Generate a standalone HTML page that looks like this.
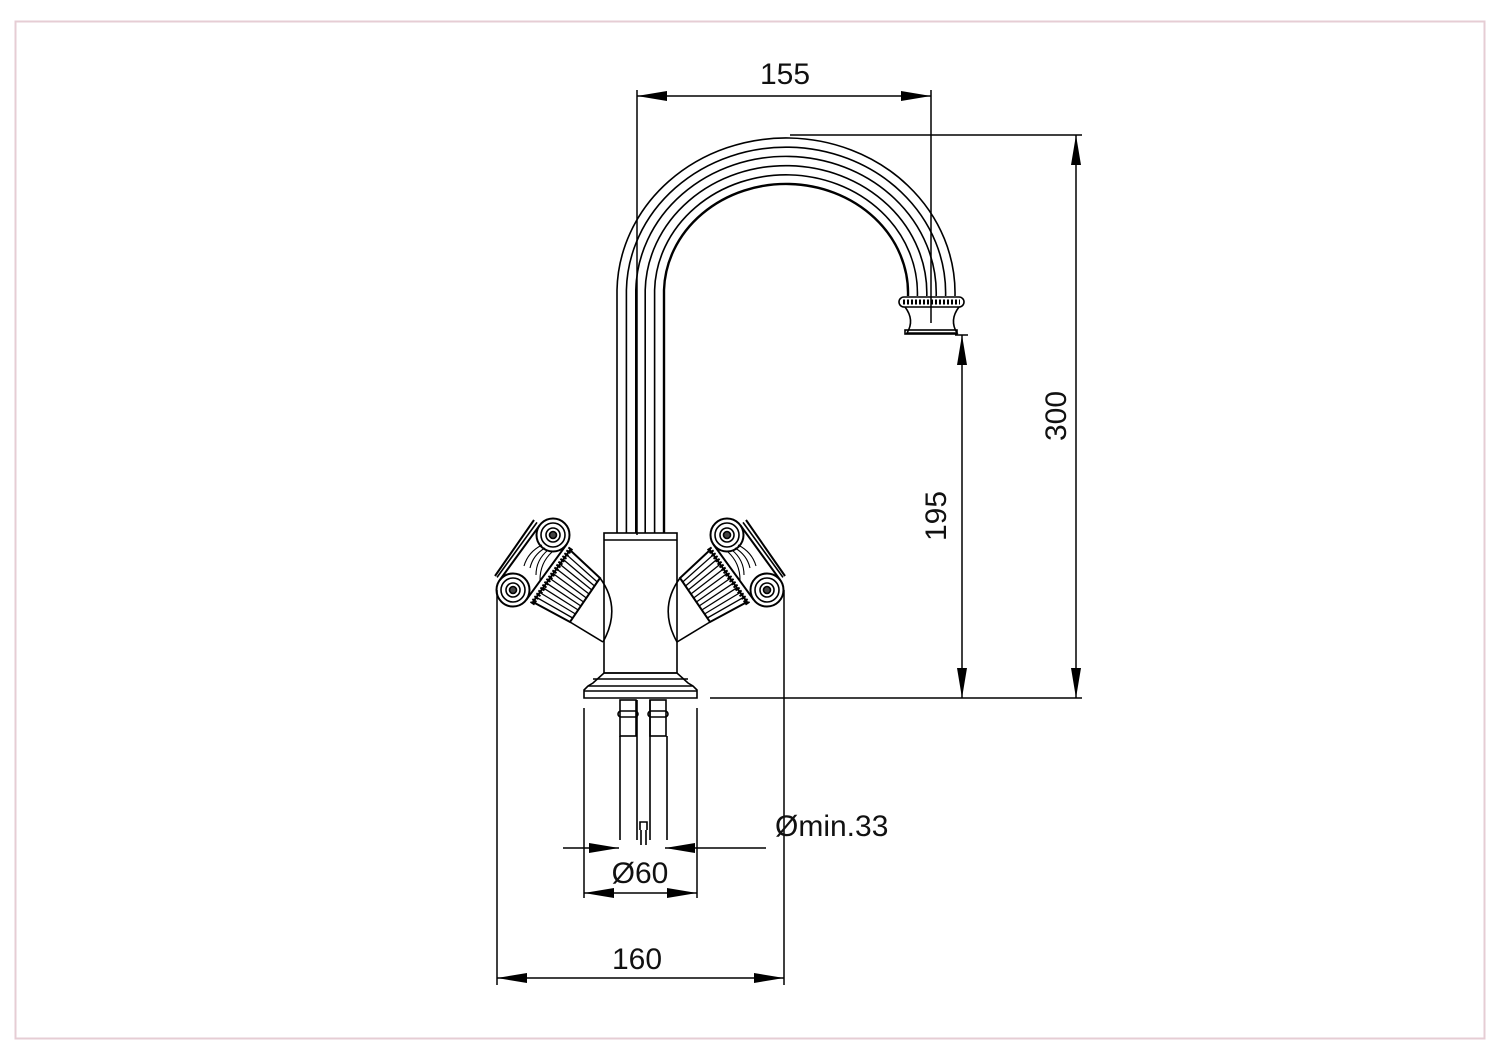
<!DOCTYPE html>
<html><head><meta charset="utf-8"><style>
html,body{margin:0;padding:0;background:#fff;}
svg{display:block;}
text{font-family:"Liberation Sans",Arial,sans-serif;font-size:30px;fill:#111;}
</style></head><body>
<svg width="1500" height="1060" viewBox="0 0 1500 1060" xmlns="http://www.w3.org/2000/svg">
<defs>
<marker id="ar" viewBox="0 0 30 10" refX="30" refY="5" markerWidth="30" markerHeight="10" markerUnits="userSpaceOnUse" orient="auto-start-reverse">
<path d="M0,0 L30,5 L0,10 z" fill="#000"/></marker>
</defs>
<rect x="15.5" y="21.5" width="1469" height="1017" fill="none" stroke="#e6cdd4" stroke-width="2"/>

<g fill="none" stroke="#000" stroke-width="1.6">
<path d="M617,533 L617,290 A169,155 0 0 1 955,296"/>
<path d="M626.4,533 L626.4,290 A159.6,145.8 0 0 1 945.6,296"/>
<path d="M635.8,533 L635.8,290 A150.2,136.6 0 0 1 936.2,296"/>
<path d="M645.2,533 L645.2,290 A140.8,127.4 0 0 1 926.8,296"/>
<path d="M654.6,533 L654.6,290 A131.4,118.2 0 0 1 917.4,296"/>
<path d="M664,533 L664,290 A122,109 0 0 1 908,296" stroke-width="2.4"/>
<rect x="899" y="297" width="65" height="10" rx="5"/>
<line x1="903" y1="302" x2="960" y2="302" stroke-dasharray="2 2" stroke-width="5"/>
<path d="M905,307 Q915,320 907,333 L957,333 Q949,320 959,307"/>
<rect x="905" y="330" width="52" height="4"/>

<rect x="604" y="533" width="73" height="140"/>
<line x1="604" y1="540" x2="677" y2="540"/>
<path d="M604,673 L677,673 L688,683 L693,686 L697,690 L697,698 L584,698 L584,690 L588,686 L593,683 Z"/>
<line x1="593" y1="679" x2="688" y2="679"/>
<line x1="588" y1="686" x2="693" y2="686"/>
<line x1="584" y1="691" x2="697" y2="691"/>

<rect x="620" y="700" width="16" height="36"/>
<rect x="650" y="700" width="16" height="36"/>
<rect x="618" y="711" width="20" height="6" rx="3"/>
<rect x="648" y="711" width="20" height="6" rx="3"/>
<line x1="620" y1="736" x2="620" y2="840"/>
<line x1="637" y1="700" x2="637" y2="840"/>
<line x1="650" y1="700" x2="650" y2="840"/>
<line x1="667" y1="736" x2="667" y2="840"/>
<path d="M640,830 L640,822 L647,822 L647,830 M641,830 L641,845 M646,830 L646,845"/>

<g id="hl">
<path d="M600,578 Q622,608 603,642"/>
<line x1="570" y1="622" x2="603" y2="642"/>
<path d="M570,550 L600,578 L570,622 L533,602 Z" stroke-width="2"/>
<g stroke-width="1.3">
<line x1="566.6" y1="554.7" x2="597.3" y2="582"/>
<line x1="563.3" y1="559.5" x2="594.5" y2="586"/>
<line x1="559.9" y1="564.2" x2="591.8" y2="590"/>
<line x1="556.5" y1="568.9" x2="589.1" y2="594"/>
<line x1="553.2" y1="573.6" x2="586.4" y2="598"/>
<line x1="549.8" y1="578.4" x2="583.6" y2="602"/>
<line x1="546.5" y1="583.1" x2="580.9" y2="606"/>
<line x1="543.1" y1="587.8" x2="578.2" y2="610"/>
<line x1="539.7" y1="592.5" x2="575.5" y2="614"/>
<line x1="536.4" y1="597.3" x2="572.7" y2="618"/>
</g>
<line x1="571" y1="548" x2="532" y2="604" stroke-width="5" stroke-dasharray="2 1.5"/>
<circle cx="553" cy="535" r="16.5" stroke-width="2"/><circle cx="553" cy="535" r="12"/><circle cx="553" cy="535" r="7"/><circle cx="553" cy="535" r="3.5" fill="#444"/>
<circle cx="513" cy="590" r="16.5" stroke-width="2"/><circle cx="513" cy="590" r="12"/><circle cx="513" cy="590" r="7"/><circle cx="513" cy="590" r="3.5" fill="#444"/>
<line x1="539.6" y1="525.3" x2="499.6" y2="580.3" stroke-width="2"/>
<line x1="537" y1="522.4" x2="497" y2="577.4"/>
<line x1="534" y1="520" x2="495" y2="576" stroke-width="2"/>
<line x1="566.4" y1="544.7" x2="526.4" y2="599.7" stroke-width="2"/>
<g stroke-width="1.1">
<path d="M545,548 Q533,555 530,568"/>
<path d="M548,550 Q536,560 536,575"/>
<path d="M552,552 Q540,563 540,580"/>
<path d="M542,545 Q528,552 524,566"/>
</g>
</g>
<use href="#hl" transform="translate(1280,0) scale(-1,1)"/>
</g>

<g stroke="#000" stroke-width="1.5" fill="none">
<line x1="637" y1="90" x2="637" y2="535"/>
<line x1="931" y1="90" x2="931" y2="323"/>
<line x1="637" y1="96" x2="931" y2="96" marker-start="url(#ar)" marker-end="url(#ar)"/>
<line x1="790" y1="135" x2="1082" y2="135"/>
<line x1="710" y1="698" x2="1082" y2="698"/>
<line x1="1076" y1="135" x2="1076" y2="698" marker-start="url(#ar)" marker-end="url(#ar)"/>
<line x1="955" y1="335" x2="968" y2="335"/>
<line x1="962" y1="335" x2="962" y2="698" marker-start="url(#ar)" marker-end="url(#ar)"/>
<line x1="497" y1="590" x2="497" y2="985"/>
<line x1="784" y1="590" x2="784" y2="985"/>
<line x1="497" y1="978" x2="784" y2="978" marker-start="url(#ar)" marker-end="url(#ar)"/>
<line x1="584" y1="708" x2="584" y2="898"/>
<line x1="697" y1="708" x2="697" y2="898"/>
<line x1="584" y1="893" x2="697" y2="893" marker-start="url(#ar)" marker-end="url(#ar)"/>
<line x1="563" y1="848" x2="619" y2="848" marker-end="url(#ar)"/>
<line x1="766" y1="848" x2="665" y2="848" marker-end="url(#ar)"/>
</g>

<text x="785" y="84" text-anchor="middle">155</text>
<text x="637" y="969" text-anchor="middle">160</text>
<text x="640" y="883" text-anchor="middle">Ø60</text>
<text x="775" y="836">Ømin.33</text>
<text transform="translate(1066,416) rotate(-90)" text-anchor="middle">300</text>
<text transform="translate(946,516) rotate(-90)" text-anchor="middle">195</text>
</svg>
</body></html>
